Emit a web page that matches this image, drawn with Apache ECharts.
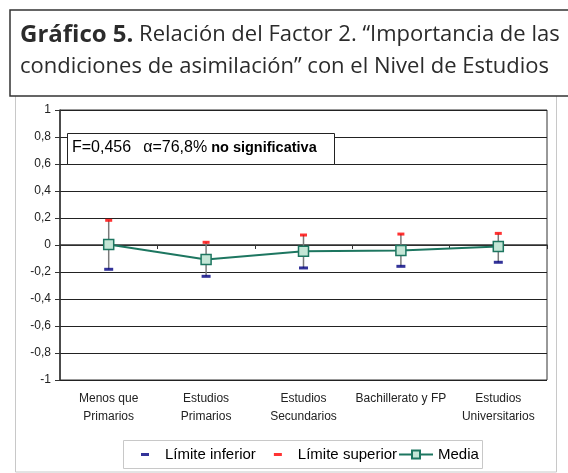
<!DOCTYPE html>
<html>
<head>
<meta charset="utf-8">
<style>html,body{margin:0;padding:0;background:#fff;}#c{width:568px;height:473px;}</style>
<script src="https://cdn.jsdelivr.net/npm/echarts@6/dist/echarts.min.js"></script>
</head>
<body>
<div id="c"></div>
<script>
var categories = ['Menos que\nPrimarios', 'Estudios\nPrimarios', 'Estudios\nSecundarios', 'Bachillerato y FP', 'Estudios\nUniversitarios'];
var lowerLimit = [-0.18, -0.232, -0.17, -0.158, -0.128];
var upperLimit = [0.183, 0.02, 0.074, 0.081, 0.086];
var mean = [0.003, -0.108, -0.047, -0.04, -0.012];
var yTicks = { min: -1, max: 1, interval: 0.2 };

var chart = echarts.init(document.getElementById('c'), null, { renderer: 'canvas' });
var axisFont = 'Liberation Sans, Arial, sans-serif';
var titleFont = 'Open Sans, sans-serif';

var option = {
  backgroundColor: '#fff',
  animation: false,
  title: {
    text: '{b|Gráfico 5.}{n| Relación del Factor 2. “Importancia de las}\n{n|condiciones de asimilación” con el Nivel de Estudios}',
    left: 20, top: 19, padding: 0,
    textStyle: {
      fontFamily: titleFont, fontSize: 22, fontWeight: 'normal', color: '#2b2b2b', lineHeight: 32,
      rich: {
        b: { fontFamily: titleFont, fontSize: 24, fontWeight: 'bold', color: '#2b2b2b', lineHeight: 32 },
        n: { fontFamily: titleFont, fontSize: 22, fontWeight: 'normal', color: '#2b2b2b', lineHeight: 32 }
      }
    }
  },
  graphic: [
    { type: 'rect', z: -10, shape: { x: 15.5, y: 90, width: 541, height: 382 }, style: { fill: '#fff', stroke: '#c8c8c8', lineWidth: 1 } },
    { type: 'rect', z: -9, shape: { x: 10, y: 10, width: 700, height: 86 }, style: { fill: '#fff', stroke: '#333', lineWidth: 1.5 } },
    { type: 'rect', zlevel: 1, z: 100, shape: { x: 67.5, y: 133.5, width: 267, height: 31 }, style: { fill: '#fff', stroke: '#222', lineWidth: 1 } },
    { type: 'text', zlevel: 1, z: 101, left: 72, top: 140,
      style: { text: '{n|F=0,456}{s|}{n|α=76,8%}{b| no significativa}', rich: {
        n: { fontFamily: axisFont, fontSize: 16, fill: '#000' },
        s: { width: 12 },
        b: { fontFamily: axisFont, fontSize: 14.5, fontWeight: 'bold', fill: '#000' }
      } } },
    { type: 'rect', z: -8, shape: { x: 123.5, y: 440.5, width: 359, height: 28 }, style: { fill: '#fff', stroke: '#c8c8c8', lineWidth: 1 } }
  ],
  legend: [
    { data: ['Límite inferior', 'Límite superior'], left: 141, top: 447, orient: 'horizontal', padding: 0,
      itemWidth: 8, itemHeight: 3, itemGap: 18, icon: 'rect',
      textStyle: { fontFamily: axisFont, fontSize: 15, color: '#000', padding: [0, 0, 0, 11] } },
    { data: ['Media'], left: 398, top: 447, padding: 0, itemWidth: 34, itemHeight: 10,
      textStyle: { fontFamily: axisFont, fontSize: 15, color: '#000' } }
  ],
  grid: { left: 60, top: 110, right: 21, bottom: 93, show: true, borderColor: '#333', borderWidth: 1, backgroundColor: 'transparent' },
  xAxis: {
    type: 'category', data: categories, boundaryGap: true,
    axisLine: { lineStyle: { color: '#333', width: 1.5 } },
    axisTick: { show: true, length: 4, lineStyle: { color: '#333' } },
    axisLabel: { fontFamily: axisFont, fontSize: 12, color: '#222', margin: 10, lineHeight: 18, interval: 0 }
  },
  yAxis: {
    type: 'value', min: yTicks.min, max: yTicks.max, interval: yTicks.interval,
    axisLine: { show: true, lineStyle: { color: '#333', width: 1.5 } },
    axisTick: { show: true, length: 5, lineStyle: { color: '#333' } },
    axisLabel: { fontFamily: axisFont, fontSize: 12, color: '#222', margin: 9,
      formatter: function (v) { return String(Math.round(v * 10) / 10).replace('.', ','); } },
    splitLine: { show: true, lineStyle: { color: '#222', width: 1 } }
  },
  series: [
    { type: 'custom', name: 'err', z: 3, silent: true,
      data: categories.map(function (c, i) { return [i, lowerLimit[i], upperLimit[i]]; }),
      renderItem: function (params, api) {
        var p1 = api.coord([api.value(0), api.value(1)]);
        var p2 = api.coord([api.value(0), api.value(2)]);
        return { type: 'line', shape: { x1: p1[0], y1: p1[1], x2: p2[0], y2: p2[1] }, style: { stroke: '#7a7a7a', lineWidth: 1.5 } };
      } },
    { type: 'scatter', name: 'Límite inferior', z: 4, symbol: 'rect', symbolSize: [9, 3],
      itemStyle: { color: '#000080' }, data: lowerLimit },
    { type: 'scatter', name: 'Límite superior', z: 4, symbol: 'rect', symbolSize: [7, 3],
      itemStyle: { color: '#ff0000' }, data: upperLimit },
    { type: 'line', name: 'Media', z: 5, data: mean, symbol: 'rect', symbolSize: 10, showAllSymbol: true,
      lineStyle: { color: '#1d7660', width: 2 },
      itemStyle: { color: '#c4e6d6', borderColor: '#1d7660', borderWidth: 1.5 } }
  ]
};
chart.setOption(option);
</script>
</body>
</html>
